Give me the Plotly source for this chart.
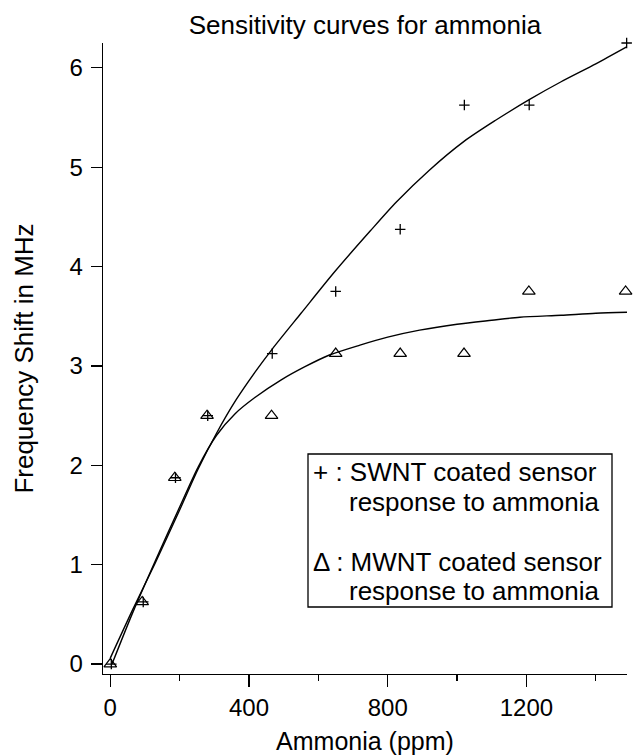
import plotly.graph_objects as go

# ---- data ----
swnt_x = [3, 95, 188, 281, 467, 650, 836, 1021, 1208, 1489]
swnt_y = [0.0, 0.625, 1.875, 2.5, 3.125, 3.75, 4.375, 5.625, 5.625, 6.25]

mwnt_x = [0, 92, 186, 279, 465, 650, 836, 1020, 1207, 1486]
mwnt_y = [0.0, 0.625, 1.875, 2.5, 2.5, 3.125, 3.125, 3.125, 3.75, 3.75]

swnt_fit_x = [0, 65, 130, 200, 253, 306, 363, 420, 467, 550, 650, 750, 825, 920, 1020, 1110, 1208, 1300, 1400, 1489]
swnt_fit_y = [0.06, 0.55, 1.02, 1.55, 1.96, 2.32, 2.66, 2.95, 3.17, 3.53, 3.96, 4.36, 4.65, 4.97, 5.26, 5.47, 5.68, 5.86, 6.04, 6.21]

mwnt_fit_x = [5, 65, 130, 200, 253, 306, 360, 416, 493, 560, 632, 720, 800, 892, 1000, 1100, 1181, 1300, 1400, 1492]
mwnt_fit_y = [0.0, 0.52, 1.04, 1.58, 1.98, 2.30, 2.52, 2.68, 2.86, 2.99, 3.11, 3.21, 3.29, 3.36, 3.42, 3.46, 3.49, 3.51, 3.53, 3.54]

x_tick_vals = [0, 400, 800, 1200]
y_tick_vals = [0, 1, 2, 3, 4, 5, 6]

title_text = "Sensitivity curves for ammonia"
x_title = "Ammonia (ppm)"
y_title = "Frequency Shift in MHz"
legend_lines = [
    ("+ : SWNT coated sensor", 311, 472),
    ("response to ammonia", 347, 502),
    ("\u0394 : MWNT coated sensor", 311, 562),
    ("response to ammonia", 347, 591),
]

FONT = "Liberation Sans, Arial, Helvetica, sans-serif"
W, H = 633, 755
L, R, T, B = 103, 6, 43, 81

fig = go.Figure()
fig.add_trace(go.Scatter(x=swnt_fit_x, y=swnt_fit_y, mode="lines",
                         line=dict(color="black", width=1.4, shape="spline", smoothing=0.8),
                         showlegend=False, hoverinfo="skip"))
fig.add_trace(go.Scatter(x=mwnt_fit_x, y=mwnt_fit_y, mode="lines",
                         line=dict(color="black", width=1.4, shape="spline", smoothing=0.8),
                         showlegend=False, hoverinfo="skip"))
fig.add_trace(go.Scatter(x=swnt_x, y=swnt_y, mode="markers", cliponaxis=False,
                         marker=dict(symbol="cross-thin", size=7.5, color="black",
                                     line=dict(color="black", width=1.3)),
                         showlegend=False))
fig.add_trace(go.Scatter(x=mwnt_x, y=mwnt_y, mode="markers", cliponaxis=False,
                         marker=dict(symbol="triangle-up-open", size=11, color="black",
                                     line=dict(color="black", width=1.2)),
                         showlegend=False))

pw = W - L - R
ph = H - T - B

def px_to_paper_x(px):
    return (px - L) / pw

def px_to_paper_y(py):
    return (H - B - py) / ph

annotations = []
for txt, lx, ly in legend_lines:
    annotations.append(dict(text=txt, x=px_to_paper_x(lx), y=px_to_paper_y(ly),
                            xref="paper", yref="paper", xanchor="left", yanchor="middle",
                            showarrow=False, font=dict(family=FONT, size=26, color="black")))

fig.update_layout(
    width=W, height=H,
    margin=dict(l=L, r=R, t=T, b=B, pad=0, autoexpand=False),
    paper_bgcolor="white", plot_bgcolor="white",
    font=dict(family=FONT, color="black"),
    title=dict(text=title_text, x=0.5, xref="paper", xanchor="center",
               y=1 - 25 / H, yref="container", yanchor="middle",
               font=dict(family=FONT, size=26, color="black")),
    xaxis=dict(range=[-21, 1490], tickvals=x_tick_vals, ticks="outside", ticklen=12,
               tickwidth=1.2, tickcolor="black", showline=True, linecolor="black",
               linewidth=1.3, showgrid=False, zeroline=False, mirror=False,
               automargin=False,
               tickfont=dict(family=FONT, size=24, color="black"),
               minor=dict(dtick=200, tick0=0, ticks="outside", ticklen=6, tickwidth=1.2,
                          tickcolor="black", showgrid=False),
               title=dict(text=x_title, font=dict(family=FONT, size=25, color="black"),
                          standoff=13)),
    yaxis=dict(range=[-0.1, 6.25], tickvals=y_tick_vals, ticks="outside", ticklen=11,
               tickwidth=1.2, tickcolor="black", showline=True, linecolor="black",
               linewidth=1.3, showgrid=False, zeroline=False, mirror=False,
               automargin=False, ticklabelstandoff=3,
               tickfont=dict(family=FONT, size=24, color="black"),
               title=dict(text=y_title, font=dict(family=FONT, size=26, color="black"),
                          standoff=28)),
    shapes=[dict(type="rect", xref="paper", yref="paper",
                 x0=px_to_paper_x(308), x1=px_to_paper_x(612),
                 y0=px_to_paper_y(607), y1=px_to_paper_y(454),
                 line=dict(color="black", width=1.3), fillcolor="rgba(0,0,0,0)")],
    annotations=annotations,
)

fig.write_html("out.html",
               config=dict(displayModeBar=False, staticPlot=True),
               post_script="document.body.style.margin='0';document.body.style.padding='0';")
